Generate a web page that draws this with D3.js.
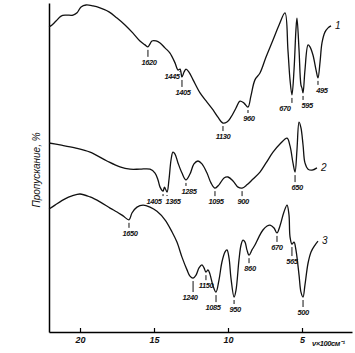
<!DOCTYPE html>
<html>
<head>
<meta charset="utf-8">
<script src="https://cdn.jsdelivr.net/npm/d3@7"></script>
<style>
  body { margin: 0; background: #fff; }
  text { font-family: "Liberation Sans", sans-serif; font-style: italic; fill: #111; }
  .band { letter-spacing: -0.4px; }
</style>
</head>
<body>
<div id="chart"></div>
<script>
// wavenumber in 100 cm-1 and transmittance (%)
let nu1 = [22.09, 21.89, 21.62, 21.28, 20.95, 20.47, 20.2, 19.93, 19.59, 19.12, 18.65, 18.04, 17.5, 16.96, 16.42, 15.95, 15.61, 15.41, 15.27, 15.14, 14.86, 14.59, 14.26, 13.92, 13.58, 13.38, 13.24, 13.11, 12.97, 12.84, 12.64, 12.36, 11.89, 11.42, 11.01, 10.68, 10.34, 10.07, 9.8, 9.46, 9.19, 8.92, 8.65, 8.45, 8.18, 7.84, 7.43, 6.96, 6.55, 6.15, 5.95, 5.81, 5.68, 5.54, 5.41, 5.34, 5.2, 5.07, 5.0, 4.93, 4.8, 4.59, 4.46, 4.26, 4.05, 3.92, 3.78, 3.65, 3.45, 3.24, 3.04];
let t1 = [93.3, 93.9, 95.1, 96.6, 96.9, 96.9, 97.6, 99.4, 100, 99.7, 99.1, 97.9, 96.0, 93.9, 91.4, 89.0, 87.8, 87.2, 88.1, 89.0, 89.0, 88.4, 86.9, 85.3, 82.3, 80.1, 80.4, 78.0, 79.5, 80.4, 79.5, 77.1, 73.1, 70.3, 67.9, 65.7, 63.9, 64.2, 65.7, 68.5, 70.6, 70.0, 68.8, 72.2, 77.1, 79.2, 84.1, 89.3, 93.9, 97.6, 86.2, 77.1, 72.5, 80.1, 92.4, 96.0, 86.2, 75.5, 74.6, 73.1, 80.1, 87.8, 87.2, 84.7, 80.1, 77.7, 82.6, 88.4, 91.7, 93.0, 93.6];

let nu2 = [22.09, 21.35, 20.34, 19.32, 18.18, 17.3, 16.62, 15.95, 15.27, 14.93, 14.73, 14.59, 14.39, 14.29, 14.12, 13.99, 13.85, 13.72, 13.58, 13.38, 13.11, 12.84, 12.57, 12.3, 12.03, 11.76, 11.42, 11.15, 10.88, 10.61, 10.27, 10.0, 9.66, 9.32, 9.05, 8.72, 8.31, 7.84, 7.43, 6.96, 6.49, 6.01, 5.81, 5.61, 5.47, 5.34, 5.2, 5.07, 4.93, 4.8, 4.59, 4.32, 3.99];
let t2 = [57.8, 57.2, 56.3, 55.0, 52.3, 50.5, 49.8, 49.8, 49.8, 48.6, 46.5, 44.3, 43.1, 44.3, 42.8, 46.5, 52.6, 55.0, 54.4, 51.7, 48.6, 46.5, 48.3, 51.4, 52.3, 51.4, 48.6, 45.6, 44.0, 45.0, 47.1, 47.4, 46.2, 44.3, 44.0, 45.0, 46.8, 48.9, 51.7, 55.0, 57.5, 59.3, 56.9, 51.7, 48.9, 55.7, 64.2, 62.4, 57.2, 51.7, 49.8, 49.5, 50.2];

let nu3 = [22.09, 21.69, 21.01, 20.54, 20.0, 19.32, 18.65, 17.97, 17.5, 17.09, 16.69, 16.49, 16.15, 15.74, 15.27, 14.8, 14.26, 13.78, 13.45, 13.11, 12.77, 12.57, 12.36, 12.16, 11.96, 11.76, 11.62, 11.49, 11.35, 11.22, 11.01, 10.81, 10.61, 10.41, 10.2, 10.07, 9.93, 9.8, 9.59, 9.46, 9.26, 9.12, 8.99, 8.85, 8.72, 8.58, 8.38, 8.18, 7.91, 7.64, 7.36, 7.16, 6.89, 6.69, 6.49, 6.22, 6.01, 5.88, 5.81, 5.68, 5.54, 5.41, 5.2, 5.07, 4.93, 4.8, 4.59, 4.39, 4.12, 3.92];
let t3 = [37.6, 38.8, 40.7, 41.6, 42.2, 41.3, 39.8, 37.9, 36.7, 35.5, 34.3, 36.4, 38.2, 38.8, 38.2, 36.9, 34.3, 30.6, 27.5, 22.9, 19.0, 17.1, 16.5, 17.4, 19.6, 20.5, 19.6, 18.3, 19.0, 17.7, 14.1, 12.2, 15.9, 21.4, 24.5, 25.1, 22.6, 16.5, 10.7, 12.8, 22.0, 26.6, 28.1, 27.5, 25.1, 23.5, 25.1, 26.6, 29.1, 31.2, 32.4, 32.7, 31.8, 30.3, 32.4, 36.7, 38.8, 35.8, 29.1, 26.9, 27.5, 25.1, 17.4, 12.2, 10.7, 14.4, 21.1, 24.5, 26.6, 27.8];

// band labels: position on the axis and the text written under the dip
let bandNu1 = [15.41, 13.24, 13.11, 10.34, 8.65, 5.68, 4.93, 3.92];
let bandText1 = ['1620', '1445', '1405', '1130', '960', '670', '595', '495'];
let bandNu2 = [14.39, 14.12, 12.84, 10.88, 9.05, 5.47];
let bandText2 = ['1405', '1365', '1285', '1095', '900', '650'];
let bandNu3 = [16.69, 12.36, 11.49, 10.81, 9.59, 8.58, 6.69, 5.68, 4.93];
let bandText3 = ['1650', '1240', '1150', '1085', '950', '860', '670', '565', '500'];

let xTicks = [20, 15, 10, 5];
let curveNames = ['1', '2', '3'];

// label nudges [dx, dy] relative to the dip
let nudge1 = [[1, 18], [-8, 10], [1, 18], [0, 16], [1, 14], [-7, 16], [4, 15], [4, 15]];
let nudge2 = [[-9, 13], [6, 12], [3, 14], [1, 16], [1, 16], [2, 18]];
let nudge3 = [[1, 16], [-3, 22], [0, 16], [-3, 18], [1, 15], [1, 16], [0, 17], [0, 20], [0, 18]];

let w = 355;
let h = 353;

let svg = d3.select('#chart').
append('svg').
attr('width', w).
attr('height', h);

let x = d3.scaleLinear().domain([22.095, 1.622]).range([49, 352]);
let y = d3.scaleLinear().domain([0, 100]).range([332, 5]);

// axes
let xAxis = svg.append('g').
attr('transform', 'translate(0,332)').
call(d3.axisBottom(x).tickValues(xTicks).tickSizeInner(-4).tickSizeOuter(0).tickPadding(5).tickFormat(d3.format('d')));
xAxis.select('.domain').attr('stroke-width', 1.5);
xAxis.selectAll('.tick line').attr('stroke-width', 1.2);
xAxis.selectAll('text').
style('font-family', '"Liberation Sans", sans-serif').
style('font-style', 'italic').
style('font-weight', 'bold').
style('font-size', '9px').
attr('fill', '#111');

svg.append('g').
attr('transform', 'translate(49,0)').
call(d3.axisLeft(d3.scaleLinear().range([332, 3])).ticks(0).tickSizeOuter(0)).
select('.domain').attr('stroke-width', 1.5);

svg.append('text').
attr('class', 'band').
attr('x', 312).
attr('y', 346).
style('font-size', '7.5px').
style('font-weight', 'bold').
text('ν×100см⁻¹');

svg.append('text').
attr('transform', 'translate(40,170) rotate(-90)').
attr('text-anchor', 'middle').
style('font-size', '10px').
text('Пропускание, %');

let line = d3.line().
x(d => x(d[0])).
y(d => y(d[1])).
curve(d3.curveCatmullRom.alpha(0.5));

let series = [
{ nu: nu1, t: t1, bands: bandNu1, texts: bandText1, nudge: nudge1 },
{ nu: nu2, t: t2, bands: bandNu2, texts: bandText2, nudge: nudge2 },
{ nu: nu3, t: t3, bands: bandNu3, texts: bandText3, nudge: nudge3 }];


// transmittance at a band position, from the curve points
function valueAt(s, v) {
  for (let i = 0; i < s.nu.length - 1; i++) {
    let a = s.nu[i],b = s.nu[i + 1];
    if (v <= a && v >= b) {
      let k = (a - v) / (a - b);
      return s.t[i] + k * (s.t[i + 1] - s.t[i]);
    }
  }
  return s.t[s.t.length - 1];
}

series.forEach((s, si) => {
  let pts = s.nu.map((v, i) => [v, s.t[i]]);
  svg.append('path').
  datum(pts).
  attr('d', line).
  attr('fill', 'none').
  attr('stroke', '#111').
  attr('stroke-width', 1.3).
  attr('stroke-linejoin', 'round');

  let g = svg.append('g');
  s.bands.forEach((v, i) => {
    let px = x(v);
    let py = y(valueAt(s, v));
    let nd = s.nudge[i];
    g.append('line').
    attr('x1', px).attr('x2', px).
    attr('y1', py + 3).attr('y2', py + nd[1] - 8).
    attr('stroke', '#111').
    attr('stroke-width', 1);
    g.append('text').
    attr('class', 'band').
    attr('x', px + nd[0]).
    attr('y', py + nd[1]).
    attr('text-anchor', 'middle').
    style('font-size', '7.5px').
    style('font-weight', 'bold').
    text(s.texts[i]);
  });

  let last = pts[pts.length - 1];
  svg.append('text').
  attr('x', x(last[0]) + 4).
  attr('y', y(last[1]) + 3).
  style('font-size', '10px').
  text(curveNames[si]);
});
</script>
</body>
</html>
